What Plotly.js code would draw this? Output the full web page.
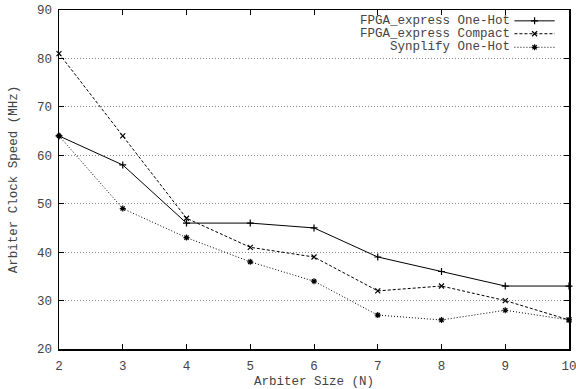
<!DOCTYPE html>
<html><head><meta charset="utf-8">
<script src="https://cdn.plot.ly/plotly-3.0.1.min.js"></script>
<style>html,body{margin:0;padding:0;background:#fff}#chart{width:576px;height:389px}</style>
</head><body><div id="chart"></div>
<script>
var arbiterSize = [2, 3, 4, 5, 6, 7, 8, 9, 10];
var fpgaOneHot  = [64, 58, 46, 46, 45, 39, 36, 33, 33];
var fpgaCompact = [81, 64, 47, 41, 39, 32, 33, 30, 26];
var synplifyOneHot = [64, 49, 43, 38, 34, 27, 26, 28, 26];
var seriesNames = ['FPGA_express One-Hot', 'FPGA_express Compact', 'Synplify One-Hot'];
var xTicks = [2, 3, 4, 5, 6, 7, 8, 9, 10];
var yTicks = [20, 30, 40, 50, 60, 70, 80, 90];

var font = {family: "'Liberation Mono', monospace", size: 12.5, color: '#444'};
var styles = [
  {dash: 'solid', symbol: 'cross-thin-open', size: 5},
  {dash: '3px,2px', symbol: 'x-thin-open', size: 5},
  {dash: '1px,2px', symbol: 'asterisk-open', size: 5}
];
var series = [fpgaOneHot, fpgaCompact, synplifyOneHot];
var traces = series.map(function(ys, i){
  return {x: arbiterSize, y: ys, type: 'scatter', mode: 'lines+markers', name: seriesNames[i],
    line: {color: '#000', width: 1, dash: styles[i].dash},
    marker: {symbol: styles[i].symbol, size: styles[i].size, color: '#000', line: {color: '#000', width: 1.2}},
    showlegend: false, hoverinfo: 'skip', cliponaxis: false};
});
// custom legend (text left of sample, like gnuplot)
var legendRows = [0.968, 0.930, 0.890];
var shapes = [], annotations = [];
legendRows.forEach(function(ry, i){
  annotations.push({xref: 'paper', yref: 'paper', x: 0.888, y: ry, xanchor: 'right', yanchor: 'middle',
    text: seriesNames[i], showarrow: false, font: font});
  shapes.push({type: 'line', xref: 'paper', yref: 'paper', x0: 0.893, x1: 0.972, y0: ry, y1: ry,
    line: {color: '#000', width: 1, dash: styles[i].dash}});
  traces.push({x: [0.9325], y: [ry], xaxis: 'x2', yaxis: 'y2', type: 'scatter', mode: 'markers',
    marker: {symbol: styles[i].symbol, size: styles[i].size, color: '#000', line: {color: '#000', width: 1.2}},
    showlegend: false, hoverinfo: 'skip'});
});

var layout = {
  width: 576, height: 389,
  margin: {l: 59, r: 7, t: 10, b: 40},
  paper_bgcolor: '#fff', plot_bgcolor: '#fff',
  font: font,
  showlegend: false,
  xaxis: {range: [2, 10], tickvals: xTicks, ticktext: xTicks.map(String), ticks: 'inside', ticklen: 5,
    tickcolor: '#000', mirror: 'ticks', showline: true, linecolor: '#000', linewidth: 1.5,
    showgrid: false, zeroline: false, tickfont: font, ticklabeloverflow: 'allow', ticklabelstandoff: 4,
    title: {text: 'Arbiter Size (N)', font: font, standoff: 4}},
  yaxis: {range: [20, 90], tickvals: yTicks, ticks: 'inside', ticklen: 5, tickcolor: '#000',
    mirror: 'ticks', showline: true, linecolor: '#000', linewidth: 1.5, ticklabelstandoff: 3,
    showgrid: true, gridcolor: '#888', griddash: '1px,2px', gridwidth: 1, zeroline: false, tickfont: font,
    title: {text: 'Arbiter Clock Speed (MHz)', font: font, standoff: 16}},
  xaxis2: {range: [0, 1], overlaying: 'x', visible: false, fixedrange: true},
  yaxis2: {range: [0, 1], overlaying: 'y', visible: false, fixedrange: true},
  shapes: shapes,
  annotations: annotations
};
Plotly.newPlot('chart', traces, layout, {displayModeBar: false, staticPlot: true});
</script>
</body></html>
